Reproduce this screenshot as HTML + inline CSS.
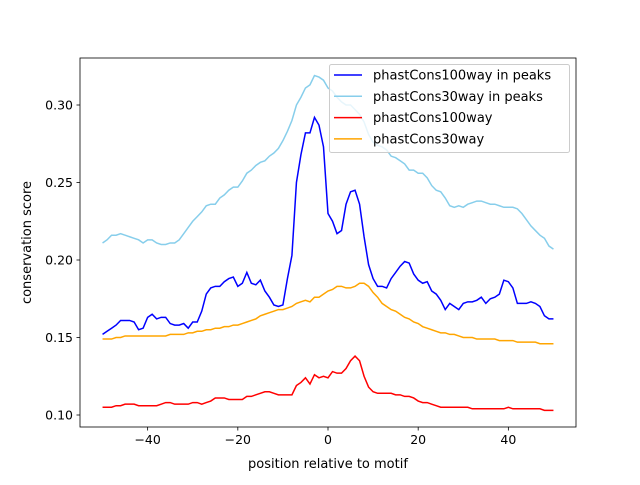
<!DOCTYPE html>
<html><head><meta charset="utf-8"><style>
body{margin:0;background:#fff;}
svg{font-family:"DejaVu Sans","Liberation Sans",sans-serif;}
</style></head><body>
<svg id="chart" width="640" height="480"></svg>
<script>
const xVals=[];for(let i=-50;i<=50;i++)xVals.push(i);
const blue100Peaks=[0.152,0.154,0.156,0.158,0.161,0.161,0.161,0.160,0.155,0.156,0.163,0.165,0.162,0.163,0.163,0.159,0.158,0.158,0.159,0.156,0.160,0.160,0.167,0.178,0.182,0.183,0.183,0.186,0.188,0.189,0.183,0.185,0.192,0.185,0.184,0.187,0.180,0.176,0.171,0.170,0.171,0.188,0.203,0.250,0.268,0.282,0.282,0.292,0.287,0.273,0.230,0.225,0.217,0.219,0.236,0.244,0.245,0.236,0.215,0.197,0.188,0.183,0.183,0.182,0.188,0.192,0.196,0.199,0.198,0.191,0.187,0.185,0.186,0.180,0.178,0.174,0.168,0.172,0.170,0.168,0.172,0.173,0.173,0.174,0.176,0.172,0.175,0.176,0.178,0.187,0.186,0.182,0.172,0.172,0.172,0.173,0.172,0.170,0.164,0.162,0.162];
const light30Peaks=[0.211,0.213,0.216,0.216,0.217,0.216,0.215,0.214,0.213,0.211,0.213,0.213,0.211,0.210,0.210,0.211,0.211,0.213,0.217,0.221,0.225,0.228,0.231,0.235,0.236,0.236,0.240,0.242,0.245,0.247,0.247,0.251,0.256,0.258,0.261,0.263,0.264,0.267,0.269,0.272,0.277,0.283,0.290,0.300,0.305,0.311,0.313,0.319,0.318,0.316,0.311,0.309,0.305,0.302,0.300,0.300,0.297,0.294,0.289,0.281,0.276,0.274,0.273,0.271,0.267,0.266,0.264,0.262,0.258,0.258,0.256,0.256,0.253,0.248,0.245,0.244,0.240,0.235,0.234,0.235,0.234,0.236,0.237,0.238,0.238,0.237,0.236,0.236,0.235,0.234,0.234,0.234,0.233,0.230,0.226,0.222,0.219,0.216,0.214,0.209,0.207];
const red100=[0.105,0.105,0.105,0.106,0.106,0.107,0.107,0.107,0.106,0.106,0.106,0.106,0.106,0.107,0.108,0.108,0.107,0.107,0.107,0.107,0.108,0.108,0.107,0.108,0.109,0.111,0.111,0.111,0.110,0.110,0.110,0.110,0.112,0.112,0.113,0.114,0.115,0.115,0.114,0.113,0.113,0.113,0.113,0.119,0.121,0.124,0.120,0.126,0.124,0.125,0.124,0.128,0.127,0.127,0.130,0.135,0.138,0.135,0.125,0.118,0.115,0.114,0.114,0.114,0.114,0.113,0.113,0.112,0.112,0.111,0.109,0.108,0.108,0.107,0.106,0.105,0.105,0.105,0.105,0.105,0.105,0.105,0.104,0.104,0.104,0.104,0.104,0.104,0.104,0.104,0.105,0.104,0.104,0.104,0.104,0.104,0.104,0.104,0.103,0.103,0.103];
const orange30=[0.149,0.149,0.149,0.150,0.150,0.151,0.151,0.151,0.151,0.151,0.151,0.151,0.151,0.151,0.151,0.152,0.152,0.152,0.152,0.153,0.153,0.154,0.154,0.155,0.155,0.156,0.156,0.157,0.157,0.158,0.158,0.159,0.160,0.161,0.162,0.164,0.165,0.166,0.167,0.168,0.168,0.169,0.170,0.172,0.173,0.174,0.173,0.176,0.176,0.178,0.180,0.181,0.183,0.183,0.182,0.182,0.183,0.185,0.185,0.183,0.179,0.176,0.172,0.170,0.168,0.167,0.165,0.163,0.162,0.160,0.159,0.157,0.156,0.155,0.154,0.153,0.153,0.152,0.152,0.151,0.150,0.150,0.150,0.149,0.149,0.149,0.149,0.149,0.148,0.148,0.148,0.148,0.147,0.147,0.147,0.147,0.147,0.146,0.146,0.146,0.146];
const xTicks=[-40,-20,0,20,40];
const yTicks=[0.10,0.15,0.20,0.25,0.30];
const seriesNames=["phastCons100way in peaks","phastCons30way in peaks","phastCons100way","phastCons30way"];
const L=80,R=576,T=58,B=427;
const xMin=-55,xMax=55,yMin=0.0925,yMax=0.3300;
const sx=v=>L+(v-xMin)/(xMax-xMin)*(R-L);
const sy=v=>415+(0.10-v)*1550;
const svg=document.getElementById('chart');const NS="http://www.w3.org/2000/svg";
function mk(t,a,p){const e=document.createElementNS(NS,t);for(const k in a)e.setAttribute(k,a[k]);(p||svg).appendChild(e);return e;}
const series=[[blue100Peaks,"#0000ff","line-phastcons100way-peaks"],[light30Peaks,"#87ceeb","line-phastcons30way-peaks"],[red100,"#ff0000","line-phastcons100way"],[orange30,"#ffa500","line-phastcons30way"]];
series.forEach(s=>{const p=mk('polyline',{points:s[0].map((v,i)=>sx(xVals[i])+","+sy(v)).join(" "),fill:"none",stroke:s[1],"stroke-width":1.5});

});
const fr=mk('rect',{x:L,y:T,width:R-L,height:B-T,fill:"none",stroke:"#000","stroke-width":0.8});

xTicks.forEach(t=>{const x=sx(t);mk('line',{x1:x,x2:x,y1:B,y2:B+3.5,stroke:"#000","stroke-width":0.8});
const tx=mk('text',{x:x,y:B+17,"text-anchor":"middle","font-size":"12.5"});tx.textContent=t<0?"\u2212"+(-t):t;
});
yTicks.forEach(t=>{const y=sy(t);mk('line',{x1:L,x2:L-3.5,y1:y,y2:y,stroke:"#000","stroke-width":0.8});
const tx=mk('text',{x:L-7,y:y+4.5,"text-anchor":"end","font-size":"12.5"});tx.textContent=t.toFixed(2);
});
const xl=mk('text',{x:(L+R)/2,y:468,"text-anchor":"middle","font-size":"13"});xl.textContent="position relative to motif";

const yl=mk('text',{x:0,y:0,"text-anchor":"middle","font-size":"13",transform:"translate(31,"+((T+B)/2)+") rotate(-90)"});yl.textContent="conservation score";

const lg=mk('g',{});
mk('rect',{x:329.5,y:64.5,width:240,height:88,rx:2,fill:"#fff","fill-opacity":0.8,stroke:"#ccc"},lg);
seriesNames.forEach((n,i)=>{const y=75+i*21.3;mk('line',{x1:334,x2:362,y1:y,y2:y,stroke:series[i][1],"stroke-width":1.5},lg);
const t=mk('text',{x:373,y:y+4.5,"font-size":"13"},lg);t.textContent=n;
});
</script>
</body></html>
